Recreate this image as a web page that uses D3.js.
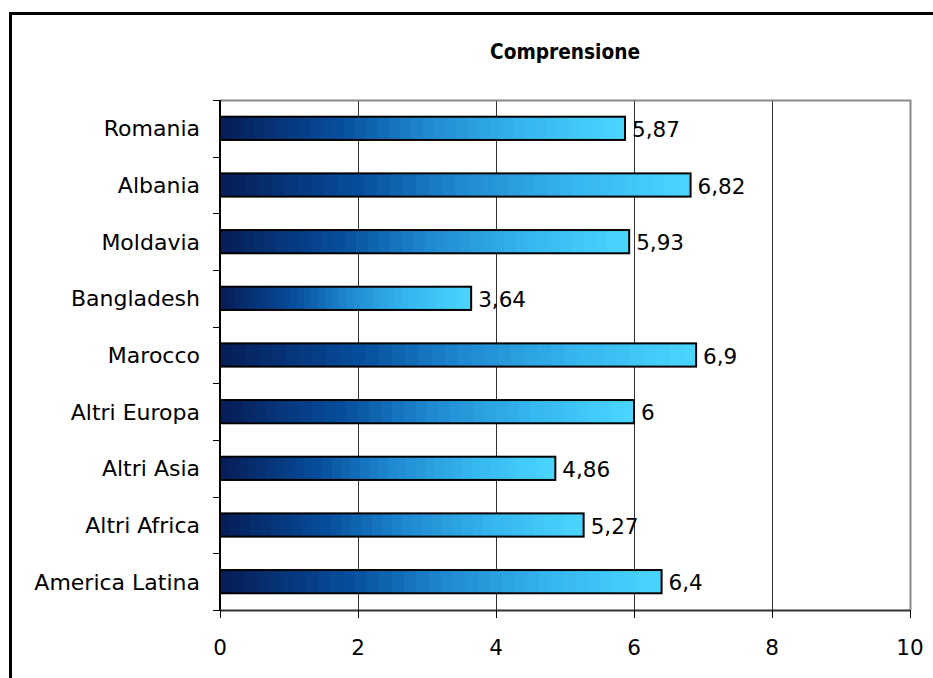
<!DOCTYPE html>
<html><head><meta charset="utf-8">
<script src="https://cdn.jsdelivr.net/npm/d3@7"></script>
<style>body{margin:0;background:#fff}svg{display:block}text{font-family:"DejaVu Sans",Verdana,sans-serif}</style>
</head><body><svg id="c" width="933" height="678"></svg>
<script>
const title = "Comprensione";
const categories = ["Romania","Albania","Moldavia","Bangladesh","Marocco","Altri Europa","Altri Asia","Altri Africa","America Latina"];
const values = [5.87,6.82,5.93,3.64,6.9,6,4.86,5.27,6.4];
const valueLabels = ["5,87","6,82","5,93","3,64","6,9","6","4,86","5,27","6,4"];
const xTicks = [0,2,4,6,8,10];

const svg = d3.select("#c");
const m = {l:220, r:910, t:100, b:610};
const x = d3.scaleLinear().domain([0,10]).range([m.l,m.r]);
const y = d3.scaleBand().domain(categories).range([m.t,m.b]).paddingInner(0.59).paddingOuter(0.295);
const yb = d3.scaleBand().domain(categories).range([m.t,m.b]);

// outer frame
svg.append("rect").attr("x",10.5).attr("y",13.5).attr("width",940).attr("height",700)
  .attr("fill","none").attr("stroke","#000").attr("stroke-width",3);

// gradient (stepped)
const defs = svg.append("defs");
const g = defs.append("linearGradient").attr("id","grad").attr("x1","0").attr("x2","1").attr("y1","0").attr("y2","0");
const cs = d3.scaleLinear().domain([0,0.3,0.5,0.75,1]).range(["#061c56","#064f9e","#1e86cf","#35b6ef","#4ad6ff"]).interpolate(d3.interpolateRgb);
const N = 36;
for(let i=0;i<N;i++){
  const c = cs((i+0.5)/N);
  g.append("stop").attr("offset",i/N).attr("stop-color",c);
  g.append("stop").attr("offset",(i+1)/N).attr("stop-color",c);
}

// title
svg.append("text").attr("x",(m.l+m.r)/2).attr("y",59).attr("text-anchor","middle")
  .attr("font-weight","bold").attr("font-size",22)
  .attr("textLength",150).attr("lengthAdjust","spacingAndGlyphs").text(title);

// gridlines
svg.append("g").selectAll("line").data(xTicks.filter(d=>d>0&&d<10)).join("line")
  .attr("x1",d=>Math.round(x(d))+0.5).attr("x2",d=>Math.round(x(d))+0.5).attr("y1",m.t).attr("y2",m.b)
  .attr("stroke","#333").attr("stroke-width",1);

// plot border top/right gray
svg.append("path").attr("d",`M${m.l},${m.t+0.5}H${m.r+0.5}V${m.b}`).attr("fill","none").attr("stroke","#888").attr("stroke-width",2);

// bars
svg.append("g").selectAll("rect").data(values).join("rect")
  .attr("x",x(0)).attr("y",(d,i)=>y(categories[i]))
  .attr("width",d=>x(d)-x(0)).attr("height",y.bandwidth())
  .attr("fill","url(#grad)").attr("stroke","#000").attr("stroke-width",2);

// value labels
svg.append("g").selectAll("text").data(values).join("text")
  .attr("x",d=>x(d)+7).attr("y",(d,i)=>y(categories[i])+y.bandwidth()/2+1)
  .attr("dy","0.36em").attr("font-size",21.5).attr("fill","#000").text((d,i)=>valueLabels[i]);

// y axis
const yAxis = svg.append("g").attr("transform",`translate(${m.l},0)`);
yAxis.append("line").attr("x1",0).attr("x2",0).attr("y1",m.t).attr("y2",m.b).attr("stroke","#000").attr("stroke-width",2);
const yt = d3.range(categories.length+1).map(i=>m.t+i*yb.step());
yAxis.selectAll("line.t").data(yt).join("line").attr("class","t")
  .attr("x1",-7).attr("x2",0).attr("y1",d=>Math.round(d)+0.5).attr("y2",d=>Math.round(d)+0.5).attr("stroke","#000");
yAxis.selectAll("text").data(categories).join("text")
  .attr("x",-20).attr("y",d=>yb(d)+yb.bandwidth()/2).attr("dy","0.36em")
  .attr("text-anchor","end").attr("font-size",22).text(d=>d);

// x axis
const xAxis = svg.append("g").attr("transform",`translate(0,${m.b})`);
xAxis.append("line").attr("x1",m.l).attr("x2",m.r).attr("y1",0.5).attr("y2",0.5).attr("stroke","#333").attr("stroke-width",2);
xAxis.selectAll("line.t").data(xTicks).join("line").attr("class","t")
  .attr("x1",d=>Math.round(x(d))+0.5).attr("x2",d=>Math.round(x(d))+0.5).attr("y1",0).attr("y2",8).attr("stroke","#000");
xAxis.selectAll("text").data(xTicks).join("text")
  .attr("x",d=>x(d)).attr("y",37).attr("dy","0.36em").attr("text-anchor","middle").attr("font-size",21.5).text(d=>d);
</script></body></html>
